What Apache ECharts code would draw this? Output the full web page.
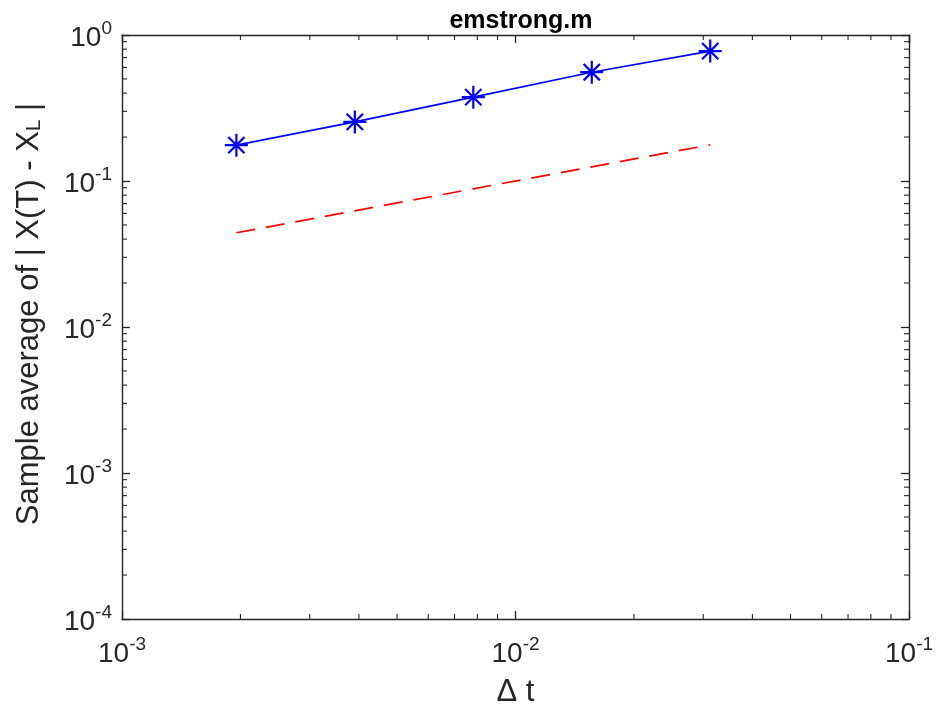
<!DOCTYPE html>
<html>
<head>
<meta charset="utf-8">
<script src="https://cdn.jsdelivr.net/npm/echarts@6/dist/echarts.min.js"></script>
<style>
html,body{margin:0;padding:0;background:#fff;}
#chart{width:939px;height:717px;}
</style>
</head>
<body>
<div id="chart"></div>
<script>
// Data
const dt = [0.001953, 0.003906, 0.0078125, 0.015625, 0.03125];
const sampleAvgError = [0.176, 0.254, 0.375, 0.556, 0.776];
const refSlopeHalf = [0.0442, 0.0625, 0.0884, 0.125, 0.1768];
const xMinorTicks = [0.002,0.003,0.004,0.005,0.006,0.007,0.008,0.009,0.02,0.03,0.04,0.05,0.06,0.07,0.08,0.09];
const yMinorTicks = [0.0002,0.0003,0.0004,0.0005,0.0006,0.0007,0.0008,0.0009,
  0.002,0.003,0.004,0.005,0.006,0.007,0.008,0.009,
  0.02,0.03,0.04,0.05,0.06,0.07,0.08,0.09,
  0.2,0.3,0.4,0.5,0.6,0.7,0.8,0.9];
const titleText = 'emstrong.m';
const xName = 'Δ t';

const FONT = '"Liberation Sans", Arial, Helvetica, sans-serif';
const TXT = '#262626';
const AX = '#262626';

const chart = echarts.init(document.getElementById('chart'), null, {renderer: 'canvas'});

function powLabel(v) {
  const e = Math.round(Math.log10(v));
  return '{b|10}{e|' + e + '}';
}
const powRich = {
  b: {fontSize: 28, fontFamily: FONT, color: TXT, padding: [6, 0, 0, 0]},
  e: {fontSize: 19, fontFamily: FONT, color: TXT, padding: [1, 0, 14, 0]}
};

const X_MIN = 0.001, X_MAX = 0.1, Y_MIN = 0.0001, Y_MAX = 1;

function baseAxisLine() {
  return {show: true, onZero: false, lineStyle: {color: AX, width: 1.4}};
}
function majorTick() {
  return {show: true, inside: true, length: 8, lineStyle: {color: AX, width: 1.3}};
}

const option = {
  backgroundColor: '#fff',
  animation: false,
  title: {
    text: titleText,
    left: 516, top: 4, textAlign: 'center',
    textStyle: {fontFamily: FONT, fontWeight: 'bold', fontSize: 25, color: '#000'}
  },
  grid: {left: 122, top: 35, right: 30, bottom: 98, containLabel: false},
  xAxis: [
    {
      type: 'log', logBase: 10, min: X_MIN, max: X_MAX, position: 'bottom',
      name: xName, nameLocation: 'middle', nameGap: 58,
      nameTextStyle: {fontFamily: FONT, fontSize: 31, color: TXT},
      axisLine: baseAxisLine(),
      axisTick: majorTick(),
      axisLabel: {show: true, formatter: powLabel, rich: powRich, margin: 15, color: TXT},
      splitLine: {show: false}
    },
    {
      type: 'log', logBase: 10, min: X_MIN, max: X_MAX, position: 'top',
      axisLine: baseAxisLine(),
      axisTick: majorTick(),
      axisLabel: {show: false},
      splitLine: {show: false}
    }
  ],
  yAxis: [
    {
      type: 'log', logBase: 10, min: Y_MIN, max: Y_MAX, position: 'left',
      name: '{a|Sample average of | X(T) - X}{s|L}{a| |}',
      nameLocation: 'middle', nameGap: 77, nameRotate: 90,
      nameTextStyle: {
        padding: [0, 0, 0, 26],
        rich: {
          a: {fontFamily: FONT, fontSize: 31, color: TXT, verticalAlign: 'bottom', lineHeight: 36},
          s: {fontFamily: FONT, fontSize: 21, color: TXT, verticalAlign: 'bottom', lineHeight: 26}
        }
      },
      axisLine: baseAxisLine(),
      axisTick: majorTick(),
      axisLabel: {show: true, formatter: powLabel, rich: powRich, margin: 10, color: TXT},
      splitLine: {show: false}
    },
    {
      type: 'log', logBase: 10, min: Y_MIN, max: Y_MAX, position: 'right',
      axisLine: baseAxisLine(),
      axisTick: majorTick(),
      axisLabel: {show: false},
      splitLine: {show: false}
    }
  ],
  series: [
    {
      name: 'error',
      type: 'line',
      xAxisIndex: 0, yAxisIndex: 0,
      data: dt.map((x, i) => [x, sampleAvgError[i]]),
      lineStyle: {color: '#0000ff', width: 1.7},
      symbol: 'path://M0,-10L0,10M-10,0L10,0M-7.07,-7.07L7.07,7.07M-7.07,7.07L7.07,-7.07',
      symbolSize: 23,
      itemStyle: {color: 'rgba(0,0,0,0)', borderColor: '#0000ff', borderWidth: 2.2},
      showSymbol: true,
      z: 5
    },
    {
      name: 'ref',
      type: 'line',
      xAxisIndex: 0, yAxisIndex: 0,
      data: dt.map((x, i) => [x, refSlopeHalf[i]]),
      lineStyle: {color: '#ff0000', width: 1.7, type: [19, 11]},
      symbol: 'none',
      z: 4
    },
    {
      name: 'xminor',
      type: 'custom',
      xAxisIndex: 0, yAxisIndex: 0,
      silent: true,
      data: xMinorTicks.map(v => [v, Y_MIN]),
      renderItem: function (params, api) {
        const x = api.value(0);
        const pb = api.coord([x, Y_MIN]);
        const pt = api.coord([x, Y_MAX]);
        const st = {stroke: AX, lineWidth: 1.1};
        return {type: 'group', children: [
          {type: 'line', shape: {x1: pb[0], y1: pb[1], x2: pb[0], y2: pb[1] - 5}, style: st},
          {type: 'line', shape: {x1: pt[0], y1: pt[1], x2: pt[0], y2: pt[1] + 5}, style: st}
        ]};
      },
      z: 3
    },
    {
      name: 'yminor',
      type: 'custom',
      xAxisIndex: 0, yAxisIndex: 0,
      silent: true,
      data: yMinorTicks.map(v => [X_MIN, v]),
      renderItem: function (params, api) {
        const y = api.value(1);
        const pl = api.coord([X_MIN, y]);
        const pr = api.coord([X_MAX, y]);
        const st = {stroke: AX, lineWidth: 1.1};
        return {type: 'group', children: [
          {type: 'line', shape: {x1: pl[0], y1: pl[1], x2: pl[0] + 5, y2: pl[1]}, style: st},
          {type: 'line', shape: {x1: pr[0], y1: pr[1], x2: pr[0] - 5, y2: pr[1]}, style: st}
        ]};
      },
      z: 3
    }
  ]
};
chart.setOption(option);
</script>
</body>
</html>
